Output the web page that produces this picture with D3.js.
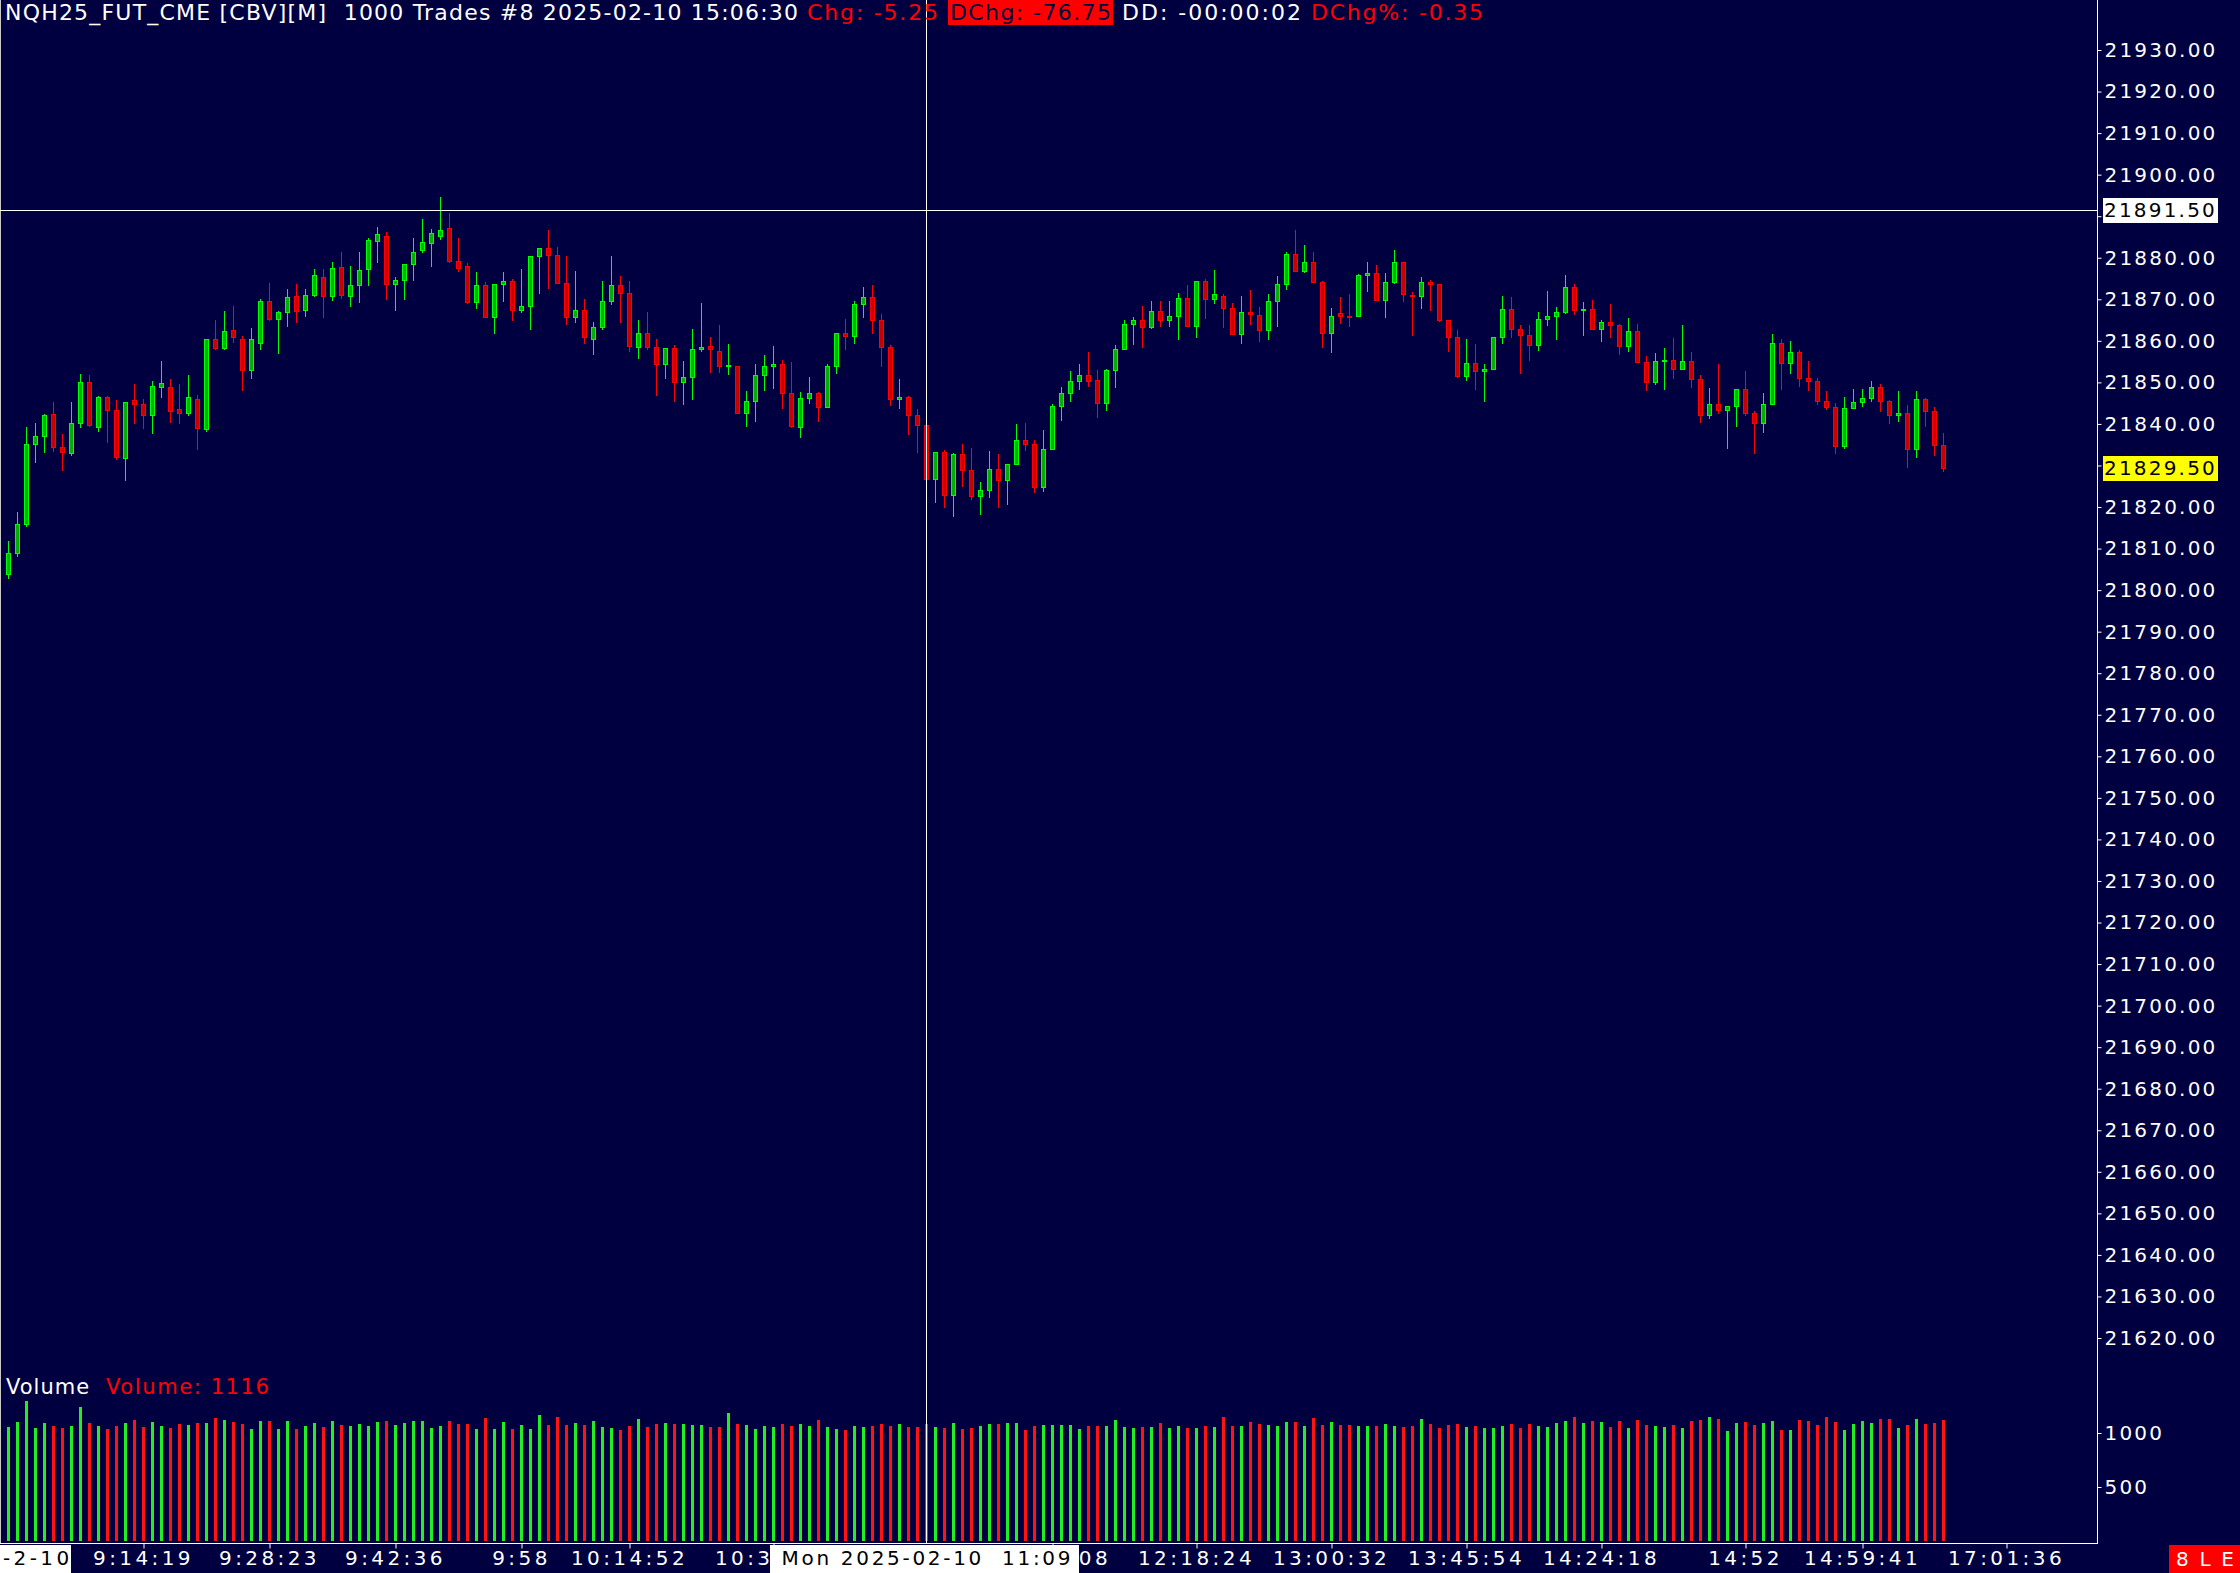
<!DOCTYPE html>
<html>
<head>
<meta charset="utf-8">
<script src="https://cdn.jsdelivr.net/npm/d3@7"></script>
<style>
    body { margin: 0; background: #000040; }
    svg text { font-family: "DejaVu Sans", Verdana, sans-serif; white-space: pre; }
</style>
</head>
<body>
<div id="chart"></div>
<script>
"use strict";

// one bar per 1000 trades, NQH25 2025-02-10
var opens = [
    21804, 21809, 21816, 21835.25, 21837, 21842.5, 21834.5, 21833, 21840.25, 21850,
    21839.25, 21846.5, 21843.25, 21831.75, 21845.75, 21844.75, 21842.25, 21849, 21849, 21843.5,
    21842.75, 21846, 21838.75, 21860.5, 21858.25, 21862.5, 21860.5, 21853, 21859.5, 21869.5,
    21865.25, 21867, 21870.75, 21867.5, 21871, 21875.25, 21870.75, 21877.75, 21870.75, 21873.5,
    21877.25, 21884, 21885.25, 21873.75, 21874.75, 21878.5, 21881.75, 21883.5, 21885.25, 21887.25,
    21879.25, 21878, 21869.25, 21873.5, 21865.75, 21873.75, 21874.5, 21867.5, 21868.5, 21880.5,
    21882.25, 21880.75, 21874, 21865.75, 21867.5, 21860.5, 21863.25, 21869.5, 21873.5, 21871.5,
    21858.5, 21862, 21858.5, 21854.5, 21858.25, 21850, 21851.25, 21858, 21858.75, 21857.5,
    21854, 21854, 21842.75, 21845.5, 21851.75, 21854, 21854.5, 21847.5, 21839.25, 21846.25,
    21847.5, 21844, 21854, 21862, 21861.25, 21868.75, 21870.5, 21865, 21858.5, 21846,
    21846.5, 21842.25, 21839.75, 21826.75, 21833.25, 21823, 21832.75, 21829, 21822.75, 21824,
    21829.25, 21826.5, 21830.25, 21836.25, 21835.25, 21824.75, 21834, 21844.25, 21847.5, 21850.25,
    21851.75, 21850.5, 21845, 21853, 21858, 21864, 21865, 21863.25, 21867.25, 21865,
    21866, 21870.25, 21863.5, 21874.5, 21870, 21870.75, 21868, 21861.75, 21867, 21866.25,
    21862.5, 21869.5, 21873.75, 21881, 21876.75, 21879, 21874.25, 21862, 21866.75, 21866,
    21866, 21875.75, 21876.25, 21869.75, 21874.25, 21879, 21871, 21870.75, 21874.25, 21873.75,
    21865, 21861, 21851.5, 21854.75, 21852.75, 21853.25, 21861, 21867.75, 21862.75, 21861.5,
    21859, 21865.25, 21866, 21867, 21873, 21867.5, 21867.75, 21862.75, 21864.5, 21863.75,
    21858.75, 21862.25, 21855, 21850, 21855.25, 21855.5, 21853.25, 21855.25, 21850.75, 21842.25,
    21844.75, 21843.25, 21844.25, 21848.5, 21842.75, 21840.25, 21844.75, 21859.5, 21854.75, 21857.25,
    21851, 21850.25, 21845.5, 21844, 21834.75, 21843.75, 21845.25, 21846.25, 21849, 21845.5,
    21842.25, 21842.75, 21834, 21846, 21843, 21835
];
var highs = [
    21811.75, 21818.75, 21839.25, 21840.25, 21842.5, 21845.25, 21837.5, 21845.25, 21852, 21851.75,
    21846.75, 21846.75, 21845.75, 21845.25, 21849.5, 21846, 21850.25, 21855.25, 21850.75, 21849.5,
    21851.75, 21847, 21860.5, 21865, 21867.25, 21868.5, 21861.25, 21863, 21870, 21874,
    21867.25, 21872.5, 21873.75, 21872.5, 21877.25, 21877.25, 21879, 21881.5, 21878, 21881.5,
    21884.75, 21887.5, 21886.25, 21875.25, 21878.5, 21884.75, 21889.25, 21887, 21894.5, 21890.75,
    21884.75, 21878.75, 21876.5, 21874.25, 21873.75, 21876.5, 21875, 21877.25, 21880.5, 21882.25,
    21886.75, 21882.5, 21880.5, 21876.75, 21870, 21864.5, 21874.5, 21880.5, 21875.5, 21874.5,
    21865, 21867, 21860.5, 21858.25, 21859, 21855.25, 21862.75, 21869, 21861, 21863.75,
    21859.25, 21854, 21848, 21854.5, 21856.5, 21858.75, 21855.5, 21855, 21847.75, 21851.25,
    21847.75, 21854.5, 21862, 21865.25, 21869.5, 21873, 21873.5, 21866.5, 21859, 21850.75,
    21846.75, 21843.5, 21843, 21833.25, 21833.75, 21833, 21835.25, 21834.25, 21826, 21833.5,
    21832.75, 21830.25, 21840, 21840.25, 21836.25, 21838.5, 21844.75, 21849, 21852.75, 21854.5,
    21857.25, 21853, 21853.25, 21859, 21865, 21865.75, 21868.5, 21869.5, 21869.5, 21869.5,
    21871.5, 21873.5, 21874.5, 21875, 21877, 21871.25, 21869, 21870.75, 21872.25, 21868.25,
    21871.25, 21875.5, 21881.5, 21886.75, 21883, 21881.5, 21874.5, 21868, 21870.5, 21871.25,
    21876, 21879, 21878.25, 21876.25, 21881.75, 21879, 21871.75, 21875.25, 21874.75, 21873.75,
    21865, 21862.5, 21860.5, 21859.25, 21854.5, 21861, 21870.75, 21870.5, 21863.75, 21863.75,
    21867, 21872, 21868.25, 21875.75, 21873.75, 21869.25, 21869.75, 21865, 21868.75, 21864,
    21865.5, 21864, 21856.25, 21857, 21858.25, 21860.75, 21863.75, 21857.25, 21851.75, 21848.75,
    21854.5, 21844.25, 21848.5, 21852.75, 21843, 21847.5, 21861.75, 21860.5, 21860, 21857.75,
    21855.25, 21851, 21848, 21845, 21846.5, 21848.5, 21848.5, 21850.25, 21849.5, 21845.75,
    21848, 21844.5, 21848, 21846.25, 21844, 21837.75
];
var lows = [
    21803, 21808.25, 21815.5, 21830.75, 21833.25, 21833.5, 21829, 21832.5, 21839.25, 21839.5,
    21838.25, 21835.75, 21831.5, 21826.5, 21840.25, 21839, 21837.75, 21846.5, 21840.5, 21840.25,
    21842.25, 21834, 21838.25, 21858, 21858, 21859.75, 21848.25, 21851, 21858, 21865,
    21857, 21863.5, 21864.5, 21866, 21870.75, 21865.75, 21869.75, 21870.25, 21868.5, 21869.25,
    21873.5, 21879, 21870, 21867.5, 21870, 21874.75, 21881.5, 21878, 21884.5, 21879,
    21876.75, 21869, 21868, 21865.75, 21862, 21869.5, 21865, 21867, 21862.75, 21871.5,
    21872.75, 21874, 21864, 21864.5, 21859.5, 21856.75, 21862.75, 21868.75, 21864.5, 21857.5,
    21855.75, 21858, 21847, 21851, 21845.5, 21844.75, 21846, 21857.5, 21852.5, 21852.5,
    21852, 21842.75, 21839.5, 21840.75, 21848.25, 21848.75, 21843.75, 21839.25, 21836.75, 21845,
    21840.75, 21844, 21852.25, 21858, 21859.5, 21865.75, 21862, 21854, 21844.5, 21843.75,
    21837.5, 21833.25, 21826.75, 21821.25, 21820, 21817.75, 21825, 21822, 21818.25, 21822.5,
    21820, 21820.75, 21830.25, 21833.75, 21823.5, 21823.75, 21834, 21841, 21845.5, 21848.5,
    21849.25, 21841.75, 21843.25, 21849, 21858, 21859.25, 21858.5, 21863, 21863.5, 21863.5,
    21860.5, 21863.5, 21861, 21865.5, 21869, 21863.25, 21861.75, 21859.5, 21864, 21860,
    21860.5, 21863.5, 21872.5, 21876.75, 21876.5, 21874.25, 21858.5, 21857.25, 21864.25, 21863.5,
    21866, 21872, 21869.75, 21865.75, 21874, 21869.5, 21861.5, 21868, 21867.5, 21864.75,
    21857.5, 21851.25, 21850.5, 21848.5, 21845.5, 21853.25, 21859.5, 21861, 21852.25, 21855.5,
    21857.75, 21863.75, 21860.5, 21866.75, 21866.5, 21861.5, 21862.75, 21860, 21861, 21856.75,
    21857.5, 21855, 21848.25, 21849.5, 21848.5, 21851, 21853.25, 21849, 21840.5, 21841.5,
    21842.75, 21834.25, 21839.5, 21842.25, 21833, 21838, 21844.75, 21848.5, 21852.25, 21849.25,
    21848.25, 21844.75, 21843.5, 21833, 21834.25, 21843.75, 21844.25, 21845.5, 21843, 21840.25,
    21840.75, 21829.75, 21832, 21839.5, 21832.5, 21828.75
];
var closes = [
    21809, 21816, 21835.25, 21837, 21842.25, 21834.5, 21833.25, 21840.25, 21850, 21839.75,
    21846.5, 21843.25, 21832, 21845.25, 21844.75, 21842.25, 21849.25, 21849.75, 21843, 21842.75,
    21846.5, 21839, 21860.5, 21858.25, 21862.25, 21861, 21853, 21860.5, 21869.5, 21865.25,
    21867, 21870.5, 21867.25, 21871, 21875.75, 21870.75, 21877.5, 21871, 21873.5, 21877,
    21884.25, 21885.75, 21873.75, 21874.75, 21878.5, 21881.5, 21883.75, 21886, 21886.75, 21879.25,
    21877.5, 21869.25, 21873.5, 21865.75, 21873.75, 21874.5, 21867.5, 21868.5, 21880.5, 21882.25,
    21880.75, 21874, 21865.75, 21867.5, 21861, 21863.25, 21869.5, 21873.5, 21871.5, 21858.75,
    21862, 21858.5, 21854.5, 21858.25, 21850, 21851.25, 21858, 21858.5, 21858, 21854,
    21854.25, 21842.75, 21845.5, 21851.75, 21854, 21854.5, 21847.5, 21839.5, 21846.25, 21847.5,
    21844, 21854, 21862, 21861.25, 21868.75, 21870.5, 21865, 21858.5, 21846, 21846.5,
    21842.25, 21839.75, 21826.75, 21833.25, 21823, 21832.75, 21829, 21822.75, 21824, 21829.25,
    21826.5, 21830.25, 21836.25, 21835.25, 21824.75, 21834, 21844.25, 21847.5, 21850.25, 21851.75,
    21850.25, 21845, 21853, 21858, 21864, 21865, 21863.25, 21867.25, 21865, 21866,
    21870.25, 21863.5, 21874.5, 21870, 21871.25, 21868, 21861.75, 21867, 21866.5, 21862.5,
    21869.5, 21873.75, 21881, 21876.75, 21879, 21874.25, 21862, 21866, 21866, 21865.75,
    21875.75, 21876.25, 21869.75, 21874.25, 21879, 21871.25, 21870.75, 21874.25, 21873.75, 21865,
    21861, 21851.5, 21854.75, 21852.75, 21853.25, 21861, 21867.75, 21862.75, 21861.5, 21859,
    21865.25, 21866, 21867, 21873, 21867.5, 21867.75, 21862.75, 21864.5, 21863.75, 21858.75,
    21862.25, 21855, 21850, 21855.25, 21855.5, 21853.25, 21855.25, 21850.75, 21842.25, 21844.75,
    21843.25, 21844.25, 21848.5, 21842.75, 21840.25, 21844.75, 21859.5, 21854.75, 21857.25, 21851,
    21850.25, 21845.5, 21844, 21834.75, 21843.75, 21845.25, 21846.25, 21849, 21845.5, 21842.25,
    21842.75, 21834, 21846, 21843, 21835, 21829.5
];
var volumes = [
    1055, 1102, 1296, 1046, 1092, 1065, 1046, 1065, 1240, 1092,
    1065, 1037, 1065, 1092, 1120, 1055, 1102, 1065, 1046, 1083,
    1074, 1092, 1092, 1139, 1120, 1102, 1083, 1037, 1111, 1111,
    1037, 1111, 1037, 1065, 1092, 1055, 1111, 1074, 1065, 1083,
    1065, 1102, 1111, 1074, 1092, 1111, 1111, 1046, 1065, 1111,
    1083, 1083, 1037, 1139, 1037, 1102, 1037, 1074, 1037, 1166,
    1074, 1148, 1074, 1092, 1074, 1111, 1055, 1046, 1028, 1065,
    1129, 1055, 1083, 1092, 1083, 1083, 1074, 1074, 1055, 1055,
    1185, 1083, 1074, 1037, 1065, 1055, 1083, 1065, 1083, 1065,
    1120, 1055, 1037, 1028, 1065, 1055, 1065, 1083, 1065, 1083,
    1055, 1055, 1083, 1055, 1046, 1092, 1037, 1046, 1065, 1083,
    1083, 1092, 1092, 1028, 1065, 1074, 1074, 1074, 1074, 1037,
    1065, 1065, 1065, 1120, 1055, 1046, 1055, 1055, 1092, 1046,
    1065, 1046, 1046, 1065, 1055, 1148, 1065, 1065, 1102, 1083,
    1074, 1065, 1102, 1102, 1065, 1139, 1074, 1102, 1074, 1074,
    1065, 1065, 1065, 1083, 1065, 1055, 1065, 1129, 1083, 1046,
    1074, 1083, 1055, 1065, 1046, 1046, 1065, 1083, 1046, 1083,
    1065, 1055, 1092, 1111, 1148, 1092, 1111, 1102, 1055, 1111,
    1046, 1120, 1074, 1065, 1055, 1074, 1046, 1111, 1120, 1148,
    1129, 1018, 1092, 1102, 1074, 1092, 1111, 1028, 1028, 1120,
    1111, 1074, 1148, 1102, 1028, 1083, 1111, 1092, 1129, 1129,
    1046, 1074, 1129, 1083, 1092, 1116
];

var priceTicks = d3.range(21620, 21931, 10);
var volumeTicks = [500, 1000];
var timeTickBars = [15, 29, 43, 57, 69, 85, 116, 132, 147, 162, 177, 193, 206, 222];
var timeTickLabels = ["9:14:19", "9:28:23", "9:42:36", "9:58", "10:14:52", "10:31:47",
    "11:36:08", "12:18:24", "13:00:32", "13:45:54", "14:24:18", "14:52", "14:59:41", "17:01:36"];

var headerTexts = ["NQH25_FUT_CME [CBV][M]  1000 Trades #8 2025-02-10 15:06:30",
    "Chg: -5.25", "DChg: -76.75", "DD: -00:00:02", "DChg%: -0.35"];

var crossBar = 102;
var crossPrice = 21891.5;
var crossTimeLabel = "Mon 2025-02-10  11:09";
var firstDateLabel = "-2-10";
var cornerLabel = "8 L E";

var BG = "#000040";
var UP = "#00ff00", UP_FILL = "#00b000";
var DOWN = "#ff0000", DOWN_FILL = "#c80000";
var VOL_UP = "#22ee22", VOL_DOWN = "#ff1414";

var W = 2240, H = 1573;
var plotRight = 2097.5;
var axisY = 1543.5;

var svg = d3.select("#chart").append("svg")
    .attr("width", W)
    .attr("height", H);

svg.append("rect").attr("width", W).attr("height", H).attr("fill", BG);

var x = d3.scaleLinear().domain([0, 1]).range([8, 17]);
var y = d3.scaleLinear().domain([21620, 21930]).range([1338, 50]);
var yVol = d3.scaleLinear().domain([0, 1000]).range([1541, 1433]);

var bars = opens.map(function(o, i) {
    return { i: i, o: o, h: highs[i], l: lows[i], c: closes[i], v: volumes[i], up: closes[i] >= o };
});

function px(i) { return Math.round(x(i)); }

// candles
var gCandles = svg.append("g");

gCandles.selectAll("line.wick")
    .data(bars)
    .enter()
    .append("line")
    .attr("class", "wick")
    .attr("x1", function(d) { return px(d.i) + 0.5; })
    .attr("x2", function(d) { return px(d.i) + 0.5; })
    .attr("y1", function(d) { return Math.round(y(d.h)); })
    .attr("y2", function(d) { return Math.round(y(d.l)) + 1; })
    .attr("stroke", function(d) { return d.up ? UP : DOWN; })
    .attr("stroke-width", 1);

gCandles.selectAll("rect.body")
    .data(bars)
    .enter()
    .append("rect")
    .attr("class", "body")
    .attr("x", function(d) { return px(d.i) - 1.5; })
    .attr("width", 4)
    .attr("y", function(d) { return Math.round(y(Math.max(d.o, d.c))) + 0.5; })
    .attr("height", function(d) {
        return Math.max(1, Math.round(y(Math.min(d.o, d.c))) - Math.round(y(Math.max(d.o, d.c))));
    })
    .attr("fill", function(d) { return d.up ? UP_FILL : DOWN_FILL; })
    .attr("stroke", function(d) { return d.up ? UP : DOWN; })
    .attr("stroke-width", 1);

// volume
svg.append("g").selectAll("rect")
    .data(bars)
    .enter()
    .append("rect")
    .attr("x", function(d) { return px(d.i) - 1; })
    .attr("width", 3)
    .attr("y", function(d) { return Math.round(yVol(d.v)); })
    .attr("height", function(d) { return Math.round(yVol(0) - yVol(d.v)); })
    .attr("fill", function(d) { return d.up ? VOL_UP : VOL_DOWN; });

var lastVol = volumes[volumes.length - 1];
svg.append("text")
    .attr("x", 6)
    .attr("y", 1394)
    .attr("fill", "#ffffff")
    .style("font-size", "21px")
    .style("letter-spacing", "1px")
    .text("Volume");
svg.append("text")
    .attr("x", 106)
    .attr("y", 1394)
    .attr("fill", "#ff0000")
    .style("font-size", "21px")
    .style("letter-spacing", "1.6px")
    .text("Volume: " + lastVol);

// frame
svg.append("line").attr("x1", 0.5).attr("x2", 0.5).attr("y1", 0).attr("y2", axisY)
    .attr("stroke", "#c8c8c8");
svg.append("line").attr("x1", plotRight).attr("x2", plotRight).attr("y1", 0).attr("y2", axisY)
    .attr("stroke", "#ffffff");

// crosshair
var crossY = Math.round(y(crossPrice)) + 0.5;
svg.append("line").attr("x1", 0).attr("x2", plotRight).attr("y1", crossY).attr("y2", crossY)
    .attr("stroke", "#ffffff");
svg.append("line").attr("x1", px(crossBar) + 0.5).attr("x2", px(crossBar) + 0.5)
    .attr("y1", 0).attr("y2", axisY)
    .attr("stroke", "#ffffff");

// price axis
var priceAxis = d3.axisRight(y)
    .tickValues(priceTicks)
    .tickFormat(d3.format(".2f"))
    .tickSize(4)
    .tickSizeOuter(0)
    .tickPadding(3);

var gPrice = svg.append("g")
    .attr("transform", "translate(" + plotRight + ",0)")
    .call(priceAxis);

var volAxis = d3.axisRight(yVol)
    .tickValues(volumeTicks)
    .tickFormat(d3.format("d"))
    .tickSize(4)
    .tickSizeOuter(0)
    .tickPadding(3);

var gVol = svg.append("g")
    .attr("transform", "translate(" + plotRight + ",0)")
    .call(volAxis);

[gPrice, gVol].forEach(function(g) {
    g.select(".domain").remove();
    g.selectAll(".tick line").attr("stroke", "#ffffff");
    g.selectAll(".tick text")
        .attr("fill", "#ffffff")
        .style("font-size", "20px")
        .style("letter-spacing", "2.2px")
        .style("font-family", "DejaVu Sans");
});

function priceBox(price, fill) {
    var cy = Math.round(y(price));
    svg.append("rect")
        .attr("x", 2103).attr("y", cy - 12)
        .attr("width", 115).attr("height", 25)
        .attr("fill", fill);
    svg.append("text")
        .attr("x", 2104).attr("y", cy + 7)
        .attr("fill", "#000000")
        .style("font-size", "20px")
        .style("letter-spacing", "2.2px")
        .text(d3.format(".2f")(price));
}
priceBox(crossPrice, "#ffffff");
priceBox(closes[closes.length - 1], "#ffff00");

// time axis
var timeAxis = d3.axisBottom(x)
    .tickValues(timeTickBars)
    .tickFormat(function(d, i) { return timeTickLabels[i]; })
    .tickSize(5)
    .tickSizeOuter(0)
    .tickPadding(2);

var gTime = svg.append("g")
    .attr("transform", "translate(0," + axisY + ")")
    .call(timeAxis);

gTime.select(".domain").remove();
gTime.selectAll(".tick line").attr("stroke", "#ffffff").attr("transform", "translate(0.5,0)");
gTime.selectAll(".tick text")
    .attr("fill", "#ffffff")
    .style("font-size", "20px")
    .style("letter-spacing", "3.4px")
    .style("font-family", "DejaVu Sans");

svg.append("line").attr("x1", 0).attr("x2", plotRight + 0.5).attr("y1", axisY).attr("y2", axisY)
    .attr("stroke", "#ffffff");

// first date box
svg.append("rect").attr("x", 0).attr("y", 1545).attr("width", 71).attr("height", 28).attr("fill", "#ffffff");
svg.append("text").attr("x", 3).attr("y", 1565)
    .attr("fill", "#000000")
    .style("font-size", "20px")
    .style("letter-spacing", "3.4px")
    .text(firstDateLabel);

// crosshair time box
var cx = px(crossBar);
svg.append("rect").attr("x", 770).attr("y", 1545).attr("width", 309).attr("height", 28).attr("fill", "#ffffff");
svg.append("text").attr("x", cx).attr("y", 1565)
    .attr("fill", "#000000")
    .attr("text-anchor", "middle")
    .style("font-size", "20px")
    .attr("textLength", 289)
    .attr("lengthAdjust", "spacing")
    .text(crossTimeLabel);

// corner box
svg.append("rect").attr("x", 2169).attr("y", 1545).attr("width", 71).attr("height", 28).attr("fill", "#ff0000");
svg.append("text").attr("x", 2176).attr("y", 1566)
    .attr("fill", "#ffffff")
    .style("font-size", "20px")
    .attr("textLength", 58)
    .attr("lengthAdjust", "spacing")
    .text(cornerLabel);

// header
var headerLayout = [
    { x: 5, w: 793, color: "#ffffff" },
    { x: 807, w: 131, color: "#ff0000" },
    { x: 950, w: 161, color: BG, box: [948, 1113] },
    { x: 1122, w: 179, color: "#ffffff" },
    { x: 1311, w: 172, color: "#ff0000" }
];

headerLayout.forEach(function(h, i) {
    if (h.box) {
        svg.append("rect").attr("x", h.box[0]).attr("y", 0)
            .attr("width", h.box[1] - h.box[0]).attr("height", 25)
            .attr("fill", "#ff0000");
    }
    svg.append("text")
        .attr("x", h.x)
        .attr("y", 20)
        .attr("fill", h.color)
        .style("font-size", "22px")
        .attr("textLength", h.w)
        .attr("lengthAdjust", "spacing")
        .text(headerTexts[i]);
});
</script>
</body>
</html>
